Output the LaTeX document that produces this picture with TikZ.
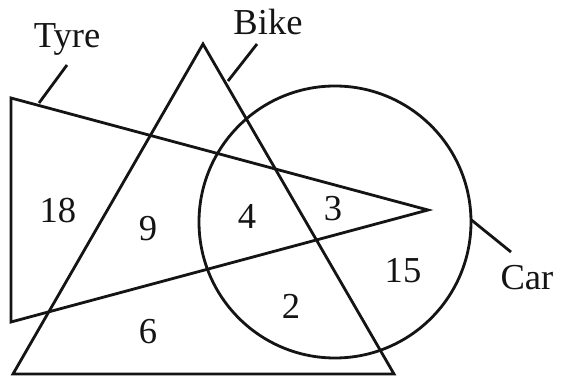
\documentclass[tikz,border=0pt]{standalone}
\usepackage{fontspec}
\setmainfont{Liberation Serif}
\usetikzlibrary{calc}
\definecolor{mydark}{RGB}{20,20,20}
\tikzset{
  setline/.style={line width=2pt, color=mydark, line join=miter},
  tagline/.style={line width=2pt, color=mydark},
  setlabel/.style={font=\fontsize{26}{30}\selectfont, anchor=base, inner sep=0pt, text=mydark},
  count/.style={font=\fontsize{26}{30}\selectfont, inner sep=0pt, text=mydark}
}

\begin{document}
\begin{tikzpicture}
  \useasboundingbox (0,0) rectangle (14.05,9.55);

  % corners of the two triangles and the centre of the circle
  \coordinate (tyreA) at (0.275,7.1);
  \coordinate (tyreB) at (0.275,1.5);
  \coordinate (tyreC) at (10.7,4.3);
  \coordinate (bikeA) at (5.075,8.45);
  \coordinate (bikeB) at (0.325,0.2);
  \coordinate (bikeC) at (9.85,0.2);
  \coordinate (car) at (8.375,4.0);

  \draw[setline] (tyreA) -- (tyreB) -- (tyreC) -- cycle;
  \draw[setline] (bikeA) -- (bikeB) -- (bikeC) -- cycle;
  \draw[setline] (car) circle (3.4);

  % set names
  \node[setlabel] (tyre) at (1.675,8.35) {Tyre};
  \node[setlabel] (bike) at (6.7,8.675) {Bike};
  \node[setlabel] (carname) at (13.175,2.3) {Car};

  \coordinate (tyreon) at (0.975,6.975);
  \coordinate (tyretag) at (1.675,7.925);
  \coordinate (bikeon) at (5.7,7.525);
  \coordinate (biketag) at (6.425,8.45);
  \coordinate (caron) at ($(car)+(1:3.4)$);
  \coordinate (cartag) at (12.775,3.25);

  \draw[tagline] (tyreon) -- (tyretag);
  \draw[tagline] (bikeon) -- (biketag);
  \draw[tagline] (caron) -- (cartag);

  % region counts
  \node[count] (n18) at (1.45,4.275) {18};
  \node[count] (n9) at (3.7,3.825) {9};
  \node[count] (n4) at (6.175,4.15) {4};
  \node[count] (n3) at (8.325,4.325) {3};
  \node[count] (n15) at (10.075,2.775) {15};
  \node[count] (n2) at (7.275,1.9) {2};
  \node[count] (n6) at (3.7,1.25) {6};
\end{tikzpicture}
\end{document}
